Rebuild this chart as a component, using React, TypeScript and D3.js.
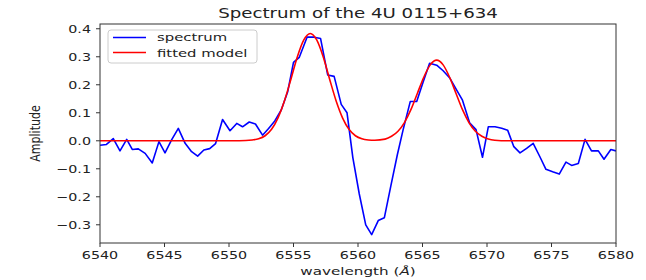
import * as d3 from 'd3';

// observed spectrum
const wavelength = [
  6540.0, 6540.5, 6541.03, 6541.55, 6542.07, 6542.5, 6542.97, 6543.5, 6544.05, 6544.57,
  6545.04, 6545.55, 6546.07, 6546.6, 6547.1, 6547.57, 6548.05, 6548.5, 6548.96, 6549.5,
  6550.08, 6550.6, 6551.05, 6551.57, 6552.05, 6552.6, 6553.07, 6553.55, 6554.05, 6554.55,
  6555.0, 6555.45, 6556.05, 6556.6, 6557.1, 6557.65, 6558.15, 6558.7, 6559.15, 6559.6,
  6560.1, 6560.6, 6561.06, 6561.57, 6562.04, 6562.55, 6563.05, 6563.5, 6564.05, 6564.55,
  6565.05, 6565.55, 6566.1, 6566.6, 6567.13, 6567.65, 6568.1, 6568.65, 6569.15, 6569.65,
  6570.1, 6570.62, 6571.14, 6571.6, 6572.08, 6572.56, 6573.07, 6573.58, 6574.1, 6574.57,
  6575.09, 6575.6, 6576.12, 6576.56, 6577.08, 6577.6, 6578.1, 6578.63, 6579.07, 6579.6, 6580.0,
];
const spectrum = [
  -0.016, -0.013, 0.008, -0.036, 0.005, -0.031, -0.029, -0.045, -0.079, -0.003,
  -0.043, 0.003, 0.044, -0.009, -0.039, -0.055, -0.033, -0.028, -0.01, 0.076,
  0.036, 0.062, 0.05, 0.067, 0.06, 0.02, 0.044, 0.071, 0.11, 0.175,
  0.28, 0.298, 0.37, 0.37, 0.365, 0.235, 0.23, 0.13, 0.1, -0.06,
  -0.19, -0.3, -0.335, -0.285, -0.275, -0.16, -0.05, 0.04, 0.14, 0.14,
  0.21, 0.277, 0.27, 0.25, 0.223, 0.181, 0.145, 0.064, 0.04, -0.059,
  0.05, 0.05, 0.045, 0.038, -0.021, -0.043, -0.027, -0.009, -0.057, -0.102,
  -0.111, -0.119, -0.076, -0.088, -0.081, 0.005, -0.036, -0.036, -0.066, -0.031, -0.036,
];

// fitted model
const modelWavelength = [
  6540, 6550.3, 6551.3, 6551.8, 6552.3, 6552.8, 6553.3, 6553.8, 6554.3, 6554.8,
  6555.3, 6555.8, 6556.3, 6556.8, 6557.3, 6557.8, 6558.3, 6558.8, 6559.3, 6559.8,
  6560.3, 6560.8, 6561.3, 6562.1, 6562.6, 6563.1, 6563.6, 6564.1, 6564.6, 6565.1,
  6565.6, 6566.1, 6566.6, 6567.1, 6567.6, 6568.1, 6568.6, 6569.1, 6569.6, 6570.1,
  6570.6, 6571.6, 6580,
];
const modelAmplitude = [
  0, 0, 0.001, 0.003, 0.007, 0.018, 0.041, 0.082, 0.143, 0.22,
  0.3, 0.36, 0.383, 0.36, 0.3, 0.22, 0.143, 0.082, 0.041, 0.018,
  0.007, 0.003, 0.002, 0.006, 0.016, 0.034, 0.065, 0.111, 0.169, 0.227,
  0.271, 0.288, 0.271, 0.227, 0.169, 0.111, 0.065, 0.034, 0.016, 0.006,
  0.002, 0, 0,
];

const xTicks = [6540, 6545, 6550, 6555, 6560, 6565, 6570, 6575, 6580];
const yTicks = [-0.3, -0.2, -0.1, 0.0, 0.1, 0.2, 0.3, 0.4];

const W = 646;
const H = 280;
const left = 100, right = 616, top = 24, bottom = 243;
const FONT = '"DejaVu Sans", sans-serif';
const SX = 1.3; // picture is stretched horizontally

function SText({ x, y, sx = SX, size = 11, anchor = 'start', children }: any) {
  return (
    <text
      transform={`translate(${x},${y}) scale(${sx},1)`}
      fontSize={size}
      fontFamily={FONT}
      textAnchor={anchor}
      fill="#222"
    >
      {children}
    </text>
  );
}

export default function App() {
  const x = d3.scaleLinear().domain([6540, 6580]).range([left, right]);
  const y = d3.scaleLinear().domain([-0.365, 0.417]).range([bottom, top]);

  const specLine = d3.line<number>()
    .x((_, i) => x(wavelength[i]))
    .y((d) => y(d));
  const modelLine = d3.line<number>()
    .x((_, i) => x(modelWavelength[i]))
    .y((d) => y(d))
    .curve(d3.curveMonotoneX);

  const fmt = (v: number) => (v < 0 ? '\u2212' : '') + Math.abs(v).toFixed(1);

  return (
    <svg
      width={W}
      height={H}
      style={{ position: 'absolute', left: 0, top: 0, background: '#fff' }}
    >
      <defs>
        <clipPath id="plot">
          <rect x={left} y={top} width={right - left} height={bottom - top} />
        </clipPath>
      </defs>

      <g clipPath="url(#plot)">
        <path d={specLine(spectrum) || ''} fill="none" stroke="#0000ff" strokeWidth={1.6} strokeLinejoin="round" />
        <path d={modelLine(modelAmplitude) || ''} fill="none" stroke="#ff0000" strokeWidth={1.6} />
      </g>

      <rect x={left} y={top} width={right - left} height={bottom - top} fill="none" stroke="#333" strokeWidth={1} />

      {xTicks.map((t) => (
        <g key={t}>
          <line x1={x(t)} x2={x(t)} y1={bottom} y2={bottom + 4} stroke="#333" />
          <SText x={x(t)} y={259} anchor="middle">{t}</SText>
        </g>
      ))}
      {yTicks.map((t) => (
        <g key={t}>
          <line x1={left - 4} x2={left} y1={y(t)} y2={y(t)} stroke="#333" />
          <SText x={91} y={y(t) + 4} anchor="end">{fmt(t)}</SText>
        </g>
      ))}

      <SText x={358} y={18} size={14} anchor="middle">Spectrum of the 4U 0115+634</SText>
      <SText x={358} y={275} sx={1.38} anchor="middle">
        wavelength (<tspan fontStyle="italic">Å</tspan>)
      </SText>
      <text
        transform={`translate(40,${(top + bottom) / 2}) scale(${SX},1) rotate(-90)`}
        fontSize={11}
        fontFamily={FONT}
        textAnchor="middle"
        fill="#222"
      >
        Amplitude
      </text>

      <rect x={108} y={30} width={149} height={33} rx={3} fill="#fff" fillOpacity={0.8} stroke="#ccc" />
      <line x1={113} x2={146} y1={37.5} y2={37.5} stroke="#0000ff" strokeWidth={1.6} />
      <line x1={113} x2={146} y1={52.5} y2={52.5} stroke="#ff0000" strokeWidth={1.6} />
      <SText x={157} y={41} sx={1.35}>spectrum</SText>
      <SText x={157} y={56.5} sx={1.35}>fitted model</SText>
    </svg>
  );
}
